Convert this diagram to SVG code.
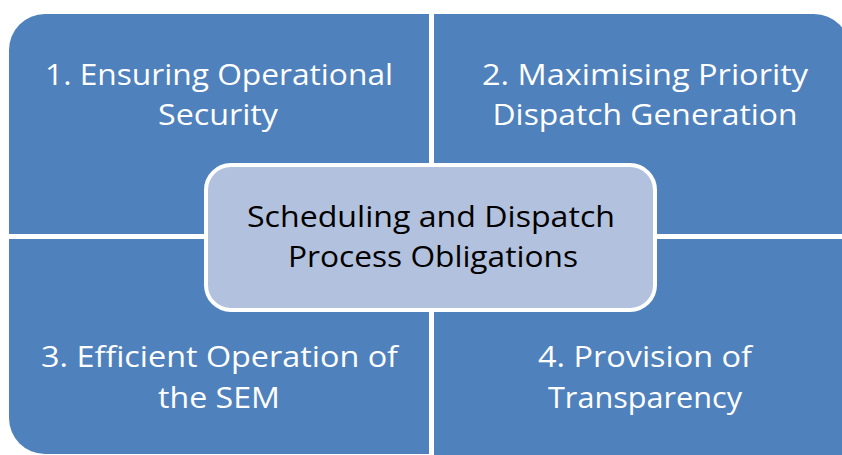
<svg xmlns="http://www.w3.org/2000/svg" width="842" height="455" viewBox="0 0 842 455">
<style>
.q{fill:#4F81BD;}
.qt{font-family:"Open Sans","Liberation Sans",sans-serif;font-size:30px;fill:#FFFFFF;text-anchor:middle;}
.ct{font-family:"Open Sans","Liberation Sans",sans-serif;font-size:30px;fill:#000000;text-anchor:middle;}
.cb{fill:#B2C1DD;stroke:#FFFFFF;stroke-width:4;}
</style>
<rect width="842" height="455" fill="#FFFFFF"/>
<g id="q1">
<path class="q" d="M9,50 A36,36 0 0 1 45,14 H429 V234 H9 Z"/>
<text class="qt" x="219" y="85" textLength="348" lengthAdjust="spacingAndGlyphs">1. Ensuring Operational</text>
<text class="qt" x="218" y="125" textLength="120" lengthAdjust="spacingAndGlyphs">Security</text>
</g>
<g id="q2">
<path class="q" d="M434,14 H814 A36,36 0 0 1 850,50 V234 H434 Z"/>
<text class="qt" x="645" y="85" textLength="326" lengthAdjust="spacingAndGlyphs">2. Maximising Priority</text>
<text class="qt" x="645" y="125" textLength="305" lengthAdjust="spacingAndGlyphs">Dispatch Generation</text>
</g>
<g id="q3">
<path class="q" d="M9,239 H429 V454 H45 A36,36 0 0 1 9,418 Z"/>
<text class="qt" x="219.5" y="367" textLength="357" lengthAdjust="spacingAndGlyphs">3. Efficient Operation of</text>
<text class="qt" x="219" y="408" textLength="122" lengthAdjust="spacingAndGlyphs">the SEM</text>
</g>
<g id="q4">
<path class="q" d="M434,239 H860 V465 A36,36 0 0 1 824,501 H434 Z"/>
<text class="qt" x="645" y="367" textLength="214" lengthAdjust="spacingAndGlyphs">4. Provision of</text>
<text class="qt" x="645" y="408" textLength="194" lengthAdjust="spacingAndGlyphs">Transparency</text>
</g>
<g id="connectors"></g>
<g id="center">
<rect class="cb" x="206" y="165" width="449" height="145" rx="25" ry="25"/>
<text class="ct" x="431" y="227" textLength="368" lengthAdjust="spacingAndGlyphs">Scheduling and Dispatch</text>
<text class="ct" x="433" y="267" textLength="290" lengthAdjust="spacingAndGlyphs">Process Obligations</text>
</g>
</svg>
